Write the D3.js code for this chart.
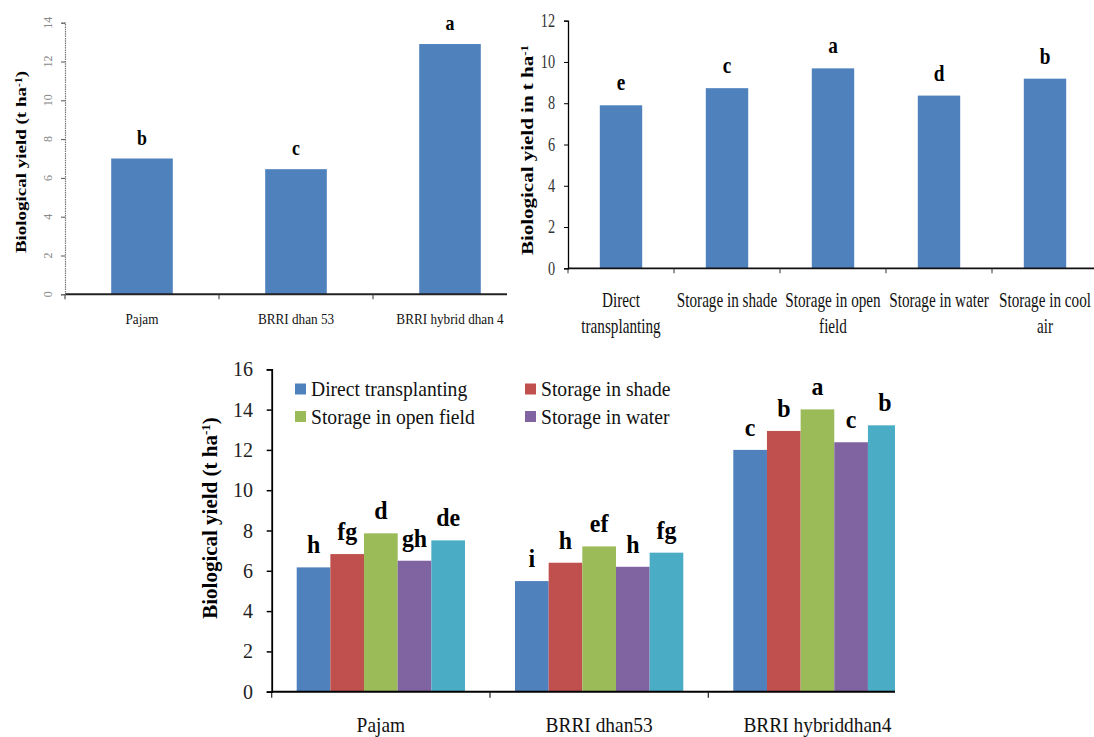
<!DOCTYPE html>
<html>
<head>
<meta charset="utf-8">
<script src="https://cdn.jsdelivr.net/npm/d3@7"></script>
<style>
  html, body { margin: 0; padding: 0; background: #fff; }
  svg { display: block; }
</style>
</head>
<body>
<svg id="chart" width="1094" height="737"></svg>
<script>
// ---------------- DATA ----------------
// Panel 1: varieties
const varieties1 = ["Pajam", "BRRI dhan 53", "BRRI hybrid dhan 4"];
const yield1 = [7.0, 6.45, 12.9];
const letters1 = ["b", "c", "a"];
const yTicks1 = [0, 2, 4, 6, 8, 10, 12, 14];

// Panel 2: seedling storage methods
const methods2 = [["Direct", "transplanting"], ["Storage in shade"], ["Storage in open", "field"], ["Storage in water"], ["Storage in cool", "air"]];
const yield2 = [7.9, 8.73, 9.69, 8.37, 9.19];
const letters2 = ["e", "c", "a", "d", "b"];
const yTicks2 = [0, 2, 4, 6, 8, 10, 12];

// Panel 3: interaction
const varieties3 = ["Pajam", "BRRI dhan53", "BRRI hybriddhan4"];
const series3 = ["Direct transplanting", "Storage in shade", "Storage in open field", "Storage in water", "Storage in cool air"];
const direct3 = [6.17, 5.49, 12.0];
const shade3 = [6.83, 6.40, 12.94];
const openField3 = [7.86, 7.21, 14.01];
const water3 = [6.5, 6.2, 12.38];
const coolAir3 = [7.51, 6.9, 13.22];
const directLetters3 = ["h", "i", "c"];
const shadeLetters3 = ["fg", "h", "b"];
const openLetters3 = ["d", "ef", "a"];
const waterLetters3 = ["gh", "h", "c"];
const coolLetters3 = ["de", "fg", "b"];
const legendSeries3 = series3.slice(0, 4);
const yTicks3 = [0, 2, 4, 6, 8, 10, 12, 14, 16];

// ---------------- STYLE ----------------
const FONT = '"Liberation Serif"';
const colors = ["#4F81BD", "#C0504D", "#9BBB59", "#8064A2", "#4BACC6"];
const svg = d3.select("#chart");
const defs = svg.append("defs");

function placeText(sel, x, y, sx, rot) {
  sel.attr("x", 0).attr("y", 0).style("font-family", FONT)
     .attr("transform", `translate(${x},${y}) scale(${sx},1)` + (rot ? ` rotate(${rot})` : ""));
  return sel;
}
function yTitle(g, x, y, size, sx, main, tail) {
  const t = g.append("text").attr("text-anchor", "middle").attr("font-weight", "bold")
    .attr("font-size", size).attr("fill", "#000");
  placeText(t, x, y, sx, -90);
  t.append("tspan").text(main);
  t.append("tspan").attr("font-size", size * 0.62).attr("baseline-shift", "super").text("-1");
  if (tail) t.append("tspan").text(tail);
  return t;
}

// ================= PANEL 1 =================
(function () {
  const g = svg.append("g");
  defs.append("clipPath").attr("id", "clip1").append("rect")
    .attr("x", 0).attr("y", 0).attr("width", 507).attr("height", 340);
  const gc = g.append("g").attr("clip-path", "url(#clip1)");
  const x = d3.scaleBand().domain(varieties1).range([65, 65 + 3 * 154]).paddingInner(0.6).paddingOuter(0.3);
  const y = d3.scaleLinear().domain([0, 14]).range([294.3, 22.7]);

  gc.selectAll("rect.bar").data(yield1).join("rect").attr("class", "bar")
    .attr("x", (d, i) => x(varieties1[i])).attr("width", x.bandwidth())
    .attr("y", d => y(d)).attr("height", d => y(0) - y(d)).attr("fill", colors[0]);

  const yAx = g.append("g").attr("transform", "translate(65,0)")
    .call(d3.axisLeft(y).tickValues(yTicks1).tickSize(4).tickFormat(""));
  yAx.select(".domain").attr("stroke", "#777").attr("stroke-width", 1.2).attr("stroke-dasharray", "1.5,0.8");
  yAx.selectAll(".tick line").attr("stroke", "#555");
  g.selectAll("text.ytl").data(yTicks1).join("text").attr("class", "ytl")
    .attr("font-size", 12).attr("fill", "#888")
    .attr("text-anchor", "middle").attr("dominant-baseline", "central")
    .each(function (d) { placeText(d3.select(this), 48, y(d), 1, -90); })
    .text(d => d);

  const step = x.step();
  const r0 = x.range()[0];
  gc.append("line").attr("x1", r0).attr("x2", x.range()[1]).attr("y1", y(0)).attr("y2", y(0))
    .attr("stroke", "#222").attr("stroke-width", 2);
  gc.selectAll("line.xt").data(d3.range(varieties1.length + 1)).join("line").attr("class", "xt")
    .attr("x1", i => r0 + i * step).attr("x2", i => r0 + i * step)
    .attr("y1", y(0)).attr("y2", y(0) + 5).attr("stroke", "#333").attr("stroke-width", 1);

  g.selectAll("text.xl").data(varieties1).join("text").attr("class", "xl")
    .attr("font-size", 15).attr("text-anchor", "middle").attr("fill", "#111")
    .each(function (d) { placeText(d3.select(this), x(d) + x.bandwidth() / 2, 324, 0.88); })
    .text(d => d);

  g.selectAll("text.lt").data(letters1).join("text").attr("class", "lt")
    .attr("font-size", 21).attr("font-weight", "bold").attr("text-anchor", "middle").attr("fill", "#000")
    .each(function (d, i) { placeText(d3.select(this), x(varieties1[i]) + x.bandwidth() / 2, y(yield1[i]) - 14, 0.85); })
    .text(d => d);

  yTitle(g, 26, 162, 19, 0.8, "Biological yield  (t ha", ")");
})();

// ================= PANEL 2 =================
(function () {
  const g = svg.append("g");
  defs.append("clipPath").attr("id", "clip2").append("rect")
    .attr("x", 540).attr("y", 0).attr("width", 560).attr("height", 340);
  const gc = g.append("g").attr("clip-path", "url(#clip2)");
  const cats = methods2.map(m => m.join(" "));
  const x = d3.scaleBand().domain(cats).range([568, 568 + 5 * 106]).paddingInner(0.6).paddingOuter(0.3);
  const y = d3.scaleLinear().domain([0, 12]).range([268.3, 20.7]);

  gc.selectAll("rect.bar").data(yield2).join("rect").attr("class", "bar")
    .attr("x", (d, i) => x(cats[i])).attr("width", x.bandwidth())
    .attr("y", d => y(d)).attr("height", d => y(0) - y(d)).attr("fill", colors[0]);

  const yAx = g.append("g").attr("transform", "translate(568,0)")
    .call(d3.axisLeft(y).tickValues(yTicks2).tickSize(4).tickFormat(""));
  yAx.select(".domain").attr("stroke", "#000").attr("stroke-width", 1.3);
  yAx.selectAll(".tick line").attr("stroke", "#000");
  g.selectAll("text.ytl").data(yTicks2).join("text").attr("class", "ytl")
    .attr("font-size", 19).attr("fill", "#333")
    .attr("text-anchor", "end").attr("dominant-baseline", "central")
    .each(function (d) { placeText(d3.select(this), 555, y(d), 0.75); })
    .text(d => d);

  const step = x.step();
  const r0 = x.range()[0];
  gc.append("line").attr("x1", r0).attr("x2", x.range()[1]).attr("y1", y(0)).attr("y2", y(0))
    .attr("stroke", "#111").attr("stroke-width", 1.8);
  gc.selectAll("line.xt").data(d3.range(cats.length + 1)).join("line").attr("class", "xt")
    .attr("x1", i => r0 + i * step).attr("x2", i => r0 + i * step)
    .attr("y1", y(0)).attr("y2", y(0) + 5).attr("stroke", "#333");

  methods2.forEach((lines, i) => {
    lines.forEach((ln, j) => {
      const t = g.append("text").attr("font-size", 20).attr("text-anchor", "middle").attr("fill", "#111").text(ln);
      placeText(t, x(cats[i]) + x.bandwidth() / 2, 307 + j * 26, 0.76);
    });
  });

  g.selectAll("text.lt").data(letters2).join("text").attr("class", "lt")
    .attr("font-size", 24).attr("font-weight", "bold").attr("text-anchor", "middle").attr("fill", "#000")
    .each(function (d, i) { placeText(d3.select(this), x(cats[i]) + x.bandwidth() / 2, y(yield2[i]) - 15, 0.8); })
    .text(d => d);

  yTitle(g, 533, 150, 21, 0.75, "Biological yield in t ha", "");
})();

// ================= PANEL 3 =================
(function () {
  const g = svg.append("g");
  defs.append("clipPath").attr("id", "clip3").append("rect")
    .attr("x", 190).attr("y", 350).attr("width", 895 - 190).attr("height", 390);
  const gc = g.append("g").attr("clip-path", "url(#clip3)");
  const stepW = 218.3, groupW = 168.3;
  const x0 = d3.scaleBand().domain(varieties3).range([271.7, 271.7 + 3 * stepW]).padding(0);
  const x1 = d3.scaleBand().domain(series3).range([(stepW - groupW) / 2, (stepW + groupW) / 2]).padding(0);
  const y = d3.scaleLinear().domain([0, 16]).range([691.7, 369.3]);
  const vals = [direct3, shade3, openField3, water3, coolAir3];
  const lets = [directLetters3, shadeLetters3, openLetters3, waterLetters3, coolLetters3];

  series3.forEach((s, si) => {
    gc.selectAll(null).data(vals[si]).join("rect")
      .attr("x", (d, i) => x0(varieties3[i]) + x1(s)).attr("width", x1.bandwidth())
      .attr("y", d => y(d)).attr("height", d => y(0) - y(d)).attr("fill", colors[si]);
    gc.selectAll(null).data(lets[si]).join("text")
      .attr("font-size", 26).attr("font-weight", "bold").attr("text-anchor", "middle").attr("fill", "#000")
      .each(function (d, i) { placeText(d3.select(this), x0(varieties3[i]) + x1(s) + x1.bandwidth() / 2, y(vals[si][i]) - 14, 0.92); })
      .text(d => d);
  });

  const yAx = g.append("g").attr("transform", "translate(271.7,0)")
    .call(d3.axisLeft(y).tickValues(yTicks3).tickSize(5).tickFormat(""));
  yAx.select(".domain").attr("stroke", "#000").attr("stroke-width", 1.8);
  yAx.selectAll(".tick line").attr("stroke", "#000").attr("stroke-width", 1.5);
  g.selectAll("text.ytl").data(yTicks3).join("text").attr("class", "ytl")
    .attr("font-size", 20).attr("fill", "#222")
    .attr("text-anchor", "end").attr("dominant-baseline", "central")
    .each(function (d) { placeText(d3.select(this), 253, y(d), 1); })
    .text(d => d);

  const r0 = x0.range()[0];
  gc.append("line").attr("x1", r0).attr("x2", x0.range()[1]).attr("y1", y(0)).attr("y2", y(0))
    .attr("stroke", "#000").attr("stroke-width", 2);
  gc.selectAll("line.xt").data(d3.range(varieties3.length + 1)).join("line").attr("class", "xt")
    .attr("x1", i => r0 + i * stepW).attr("x2", i => r0 + i * stepW)
    .attr("y1", y(0)).attr("y2", y(0) + 6).attr("stroke", "#222").attr("stroke-width", 1.2);

  g.selectAll("text.xl").data(varieties3).join("text").attr("class", "xl")
    .attr("font-size", 20).attr("text-anchor", "middle").attr("fill", "#111")
    .each(function (d) { placeText(d3.select(this), x0(d) + stepW / 2, 732, 0.97); })
    .text(d => d);

  const lg = g.append("g");
  legendSeries3.forEach((s, i) => {
    const col = i % 2, row = Math.floor(i / 2);
    const lx = col === 0 ? 295 : 525, ly = row === 0 ? 389 : 416.5;
    lg.append("rect").attr("x", lx).attr("y", ly - 5.5).attr("width", 11).attr("height", 11).attr("fill", colors[i]);
    const t = lg.append("text").attr("font-size", 20).attr("dominant-baseline", "central").attr("fill", "#111").text(s);
    placeText(t, lx + 16, ly, 0.98);
  });

  yTitle(g, 217, 518, 21, 1, "Biological yield (t ha", ")");
})();
</script>
</body>
</html>
